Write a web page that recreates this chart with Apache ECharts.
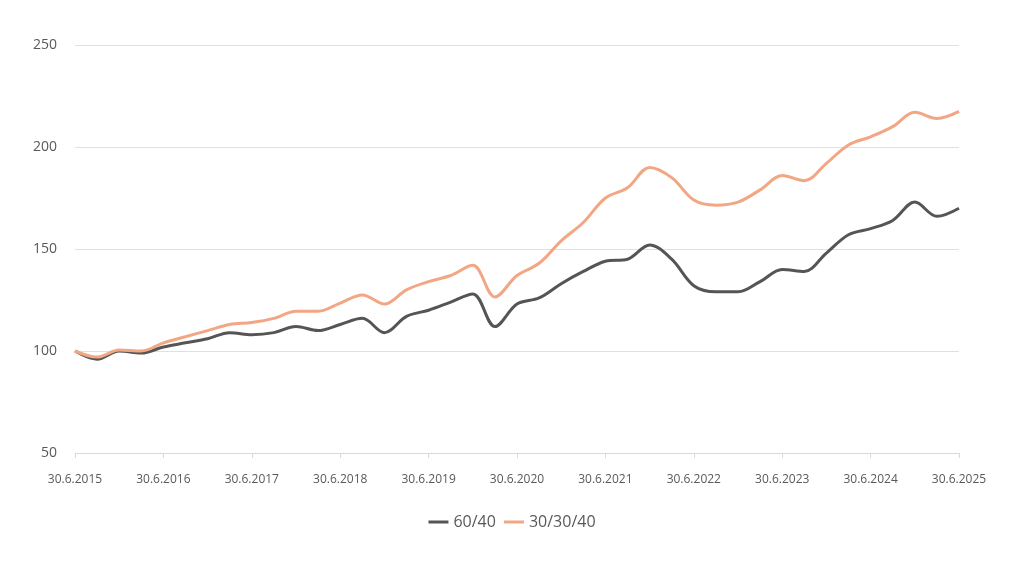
<!DOCTYPE html>
<html>
<head>
<meta charset="utf-8">
<script src="https://cdn.jsdelivr.net/npm/echarts@6/dist/echarts.min.js"></script>
<style>
html,body{margin:0;padding:0;background:#fff;}
#chart{width:1024px;height:571px;}
</style>
</head>
<body>
<div id="chart"></div>
<script>
var quarterEnds = ['30.6', '30.9', '31.12', '31.3'];
var categories = [];
(function(){
  var y = 2015, q = 0;
  for (var i = 0; i < 41; i++) {
    categories.push(quarterEnds[q] + '.' + y);
    q++;
    if (q === 3) { y++; }
    if (q === 4) { q = 0; }
  }
})();
var series6040 = [100, 96, 100, 99, 102, 104, 106, 109, 108, 109, 112, 110, 113, 116, 109, 117, 120, 124, 128, 112,
  123, 126, 133, 139, 144, 145, 152, 145, 132, 129, 129, 134, 140, 139, 148, 157, 160, 164, 173, 166, 170];
var series303040 = [100, 97, 100.5, 100, 104, 107, 110, 113, 114, 116, 119.5, 119.5, 123.5, 127.5, 123, 130, 134, 137, 142, 126.5,
  137, 143, 154, 163, 175, 180, 190, 185, 174, 171.5, 173, 179, 186, 183.5, 192, 201, 205, 210, 217, 214, 217.5];
var seriesNames = ['60/40', '30/30/40'];
var yTicks = {min: 50, max: 250, interval: 50};

var font = "'Liberation Sans Narrow', 'Open Sans', sans-serif";
var chart = echarts.init(document.getElementById('chart'));
chart.setOption({
  animation: false,
  backgroundColor: '#fff',
  grid: {left: 75, right: 65, top: 45, bottom: 118, containLabel: false},
  legend: {
    data: seriesNames,
    bottom: 36,
    left: 'center',
    icon: 'rect',
    itemWidth: 20,
    itemHeight: 3,
    itemGap: 8,
    textStyle: {color: '#595959', fontSize: 16, fontFamily: font}
  },
  xAxis: {
    type: 'category',
    data: categories,
    boundaryGap: false,
    axisLine: {lineStyle: {color: '#d9d9d9'}},
    axisTick: {show: true, interval: 3, length: 5, lineStyle: {color: '#d9d9d9'}},
    axisLabel: {interval: 3, color: '#595959', fontSize: 12, fontFamily: font, margin: 21}
  },
  yAxis: {
    type: 'value',
    min: yTicks.min,
    max: yTicks.max,
    interval: yTicks.interval,
    axisLine: {show: false},
    axisTick: {show: false},
    axisLabel: {color: '#595959', fontSize: 14, fontFamily: font, margin: 18},
    splitLine: {lineStyle: {color: '#e0e0e0'}}
  },
  series: [
    {name: seriesNames[0], type: 'line', data: series6040, smooth: 0.35, symbol: 'none',
     lineStyle: {width: 3, color: '#555555'}, itemStyle: {color: '#555555'}},
    {name: seriesNames[1], type: 'line', data: series303040, smooth: 0.35, symbol: 'none',
     lineStyle: {width: 3, color: '#f2a683'}, itemStyle: {color: '#f2a683'}}
  ]
});
</script>
</body>
</html>
